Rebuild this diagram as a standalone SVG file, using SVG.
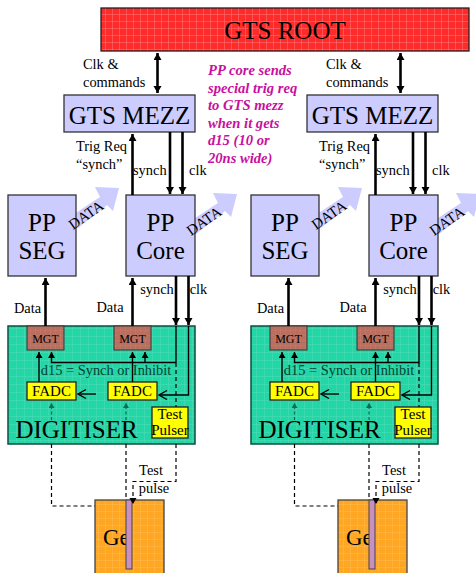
<svg xmlns="http://www.w3.org/2000/svg" width="476" height="573" viewBox="0 0 476 573">
<style>
text{font-family:"Liberation Serif","Times New Roman",serif;fill:#000;text-anchor:middle}
.lbl{font-size:14.4px}
.st{text-anchor:start}
.big{font-size:25px}
.mgt{font-size:12px}
.dig{font-size:25px}
.fa{font-size:15px}
.da{font-size:15px}
.ge{font-size:23px;text-anchor:start}
.node{fill:#ccccff;stroke:#333;stroke-width:1.3}
.note{font-size:14.600px;font-style:italic;font-weight:bold;fill:#c80fa0;text-anchor:start}
.th{fill:none;stroke:#000;stroke-width:2.6}
.tn{fill:none;stroke:#000;stroke-width:1.4}
.ds{fill:none;stroke:#000;stroke-width:1.2;stroke-dasharray:4 3}
.dg{fill:none;stroke:#0a6a58;stroke-width:1.2;stroke-dasharray:3 2.5}
.yel{fill:#ffff00;stroke:#222;stroke-width:1.3}
.blk{fill:#ccccff;stroke:none}
.mg{fill:url(#pm);stroke:#333;stroke-width:1}
.dgr{fill:url(#pg);stroke:#0b4f40;stroke-width:1.5}
.gb{fill:url(#po);stroke:#444;stroke-width:1.3}
.gc{fill:#c890c0;stroke:#444;stroke-width:1}
</style>
<defs>
<pattern id="pr" width="7" height="7" patternUnits="userSpaceOnUse"><rect width="7" height="7" fill="#ff2a2a"/><path d="M0 0H7M0 0V7" stroke="#ff7a7a" stroke-width="1"/></pattern>
<pattern id="pg" width="8" height="8" patternUnits="userSpaceOnUse"><rect width="8" height="8" fill="#22d6a6"/><path d="M0 0H8M0 0V8" stroke="#52dcb9" stroke-width="1"/></pattern>
<pattern id="pm" width="5" height="5" patternUnits="userSpaceOnUse"><rect width="5" height="5" fill="#b5705f"/><path d="M0 0H5M0 0V5" stroke="#d0766a" stroke-width="1"/></pattern>
<pattern id="po" width="7" height="7" patternUnits="userSpaceOnUse"><rect width="7" height="7" fill="#ffa722"/><path d="M0 0H7M0 0V7" stroke="#ffbb55" stroke-width="1"/></pattern>
<marker id="a" markerUnits="userSpaceOnUse" markerWidth="9" markerHeight="9" refX="7" refY="4" orient="auto-start-reverse"><path d="M0 0L7 4L0 8Z" fill="#000"/></marker>
<marker id="b" markerUnits="userSpaceOnUse" markerWidth="8" markerHeight="8" refX="6" refY="3.5" orient="auto"><path d="M0 0L6 3.5L0 7Z" fill="#000"/></marker>
<marker id="o" markerUnits="userSpaceOnUse" markerWidth="11" markerHeight="11" refX="10" refY="5" orient="auto"><path d="M2 0.500L10 5L2 9.500" fill="none" stroke="#000" stroke-width="1.300"/></marker>
<marker id="g" markerUnits="userSpaceOnUse" markerWidth="7" markerHeight="7" refX="5" refY="3" orient="auto"><path d="M0 0L5 3L0 6Z" fill="#0a6a58"/></marker>
</defs>

<g id="gts-root"><rect x="101" y="8" width="368" height="43" fill="url(#pr)" stroke="#222" stroke-width="1.3"/><text x="285" y="39" class="big">GTS ROOT</text></g>

<g id="note"><text class="note"><tspan x="208" y="75">PP core sends</tspan><tspan x="208" y="93">special trig req</tspan><tspan x="208" y="110">to GTS mezz</tspan><tspan x="208" y="128">when it gets</tspan><tspan x="208" y="145">d15 (10 or</tspan><tspan x="208" y="163">20ns wide)</tspan></text></g>

<g id="data-arrows">
<polygon class="blk" points="68,218 100,197 95,187 119,188 113,211 107,205 78,228"/>
<polygon class="blk" points="186,224 218,203 213,193 237,194 231,217 225,211 196,234"/>
<polygon class="blk" points="311,218 343,197 338,187 362,188 356,211 350,205 321,228"/>
<polygon class="blk" points="429,224 461,203 456,193 480,194 474,217 468,211 439,234"/>
</g>

<g id="left-gts-mezz"><rect class="node" x="64" y="95" width="131" height="37"/><text x="129.500" y="124" class="big">GTS MEZZ</text></g>
<g id="left-pp-seg"><rect class="node" x="8" y="195" width="68" height="81"/><text x="42" y="231" class="big">PP</text><text x="42" y="259" class="big">SEG</text></g>
<g id="left-pp-core"><rect class="node" x="126" y="195" width="69" height="81"/><text x="160.500" y="231" class="big">PP</text><text x="160.500" y="259" class="big">Core</text></g>
<g id="left-digitiser"><rect class="dgr" x="8" y="326" width="187" height="118"/><text x="76.500" y="438" class="dig">DIGITISER</text></g>
<g id="left-mgt-1"><rect class="mg" x="27" y="326" width="37" height="24"/><text x="45.500" y="343" class="mgt">MGT</text></g>
<g id="left-mgt-2"><rect class="mg" x="114" y="326" width="37" height="24"/><text x="132.500" y="343" class="mgt">MGT</text></g>
<g id="left-fadc-1"><rect class="yel" x="27" y="382" width="49" height="18"/><text x="51.500" y="396" class="fa">FADC</text></g>
<g id="left-fadc-2"><rect class="yel" x="108" y="382" width="49" height="18"/><text x="132.500" y="396" class="fa">FADC</text></g>
<g id="left-test-pulser"><rect class="yel" x="152" y="407" width="36" height="31"/><text x="170" y="419" class="fa">Test</text><text x="170" y="435" class="fa">Pulser</text></g>
<g id="left-ge"><rect class="gb" x="95" y="500" width="69" height="76"/><text x="103" y="545" class="ge">Ge</text></g>
<g id="left-ge-core"><rect class="gc" x="126" y="500" width="6" height="69"/></g>

<g id="right-gts-mezz"><rect class="node" x="307" y="95" width="131" height="37"/><text x="372.500" y="124" class="big">GTS MEZZ</text></g>
<g id="right-pp-seg"><rect class="node" x="251" y="195" width="68" height="81"/><text x="285" y="231" class="big">PP</text><text x="285" y="259" class="big">SEG</text></g>
<g id="right-pp-core"><rect class="node" x="369" y="195" width="69" height="81"/><text x="403.500" y="231" class="big">PP</text><text x="403.500" y="259" class="big">Core</text></g>
<g id="right-digitiser"><rect class="dgr" x="251" y="326" width="187" height="118"/><text x="319.500" y="438" class="dig">DIGITISER</text></g>
<g id="right-mgt-1"><rect class="mg" x="270" y="326" width="37" height="24"/><text x="288.500" y="343" class="mgt">MGT</text></g>
<g id="right-mgt-2"><rect class="mg" x="357" y="326" width="37" height="24"/><text x="375.500" y="343" class="mgt">MGT</text></g>
<g id="right-fadc-1"><rect class="yel" x="270" y="382" width="49" height="18"/><text x="294.500" y="396" class="fa">FADC</text></g>
<g id="right-fadc-2"><rect class="yel" x="351" y="382" width="49" height="18"/><text x="375.500" y="396" class="fa">FADC</text></g>
<g id="right-test-pulser"><rect class="yel" x="395" y="407" width="36" height="31"/><text x="413" y="419" class="fa">Test</text><text x="413" y="435" class="fa">Pulser</text></g>
<g id="right-ge"><rect class="gb" x="338" y="500" width="69" height="76"/><text x="346" y="545" class="ge">Ge</text></g>
<g id="right-ge-core"><rect class="gc" x="369" y="500" width="6" height="69"/></g>

<g id="connectors">
<g id="conn-left">
<path class="th" d="M157.500 53V93" marker-start="url(#a)" marker-end="url(#a)"/>
<path class="th" d="M132.500 195V134" marker-end="url(#a)"/>
<path class="th" d="M170 132V194" marker-end="url(#a)"/>
<path class="th" d="M182.500 132V194" marker-end="url(#a)"/>
<path class="th" d="M45.500 326V278" marker-end="url(#a)"/>
<path class="th" d="M132.500 326V278" marker-end="url(#a)"/>
<path class="th" d="M176 276V325" marker-end="url(#a)"/>
<path class="th" d="M188.500 276V325" marker-end="url(#a)"/>
<path class="tn" d="M39 382V352" marker-end="url(#b)"/>
<path class="tn" d="M132.500 382V352" marker-end="url(#b)"/>
<path class="tn" d="M176 326V362.500H51.500V352" marker-end="url(#b)"/>
<path class="tn" d="M145 362.500V352" marker-end="url(#b)"/>
<path class="tn" d="M188.500 326V395H159" marker-end="url(#o)"/>
<path class="tn" d="M96 394H78" marker-end="url(#o)"/>
<path class="dg" d="M51.500 420V403" marker-end="url(#g)"/>
<path class="dg" d="M126 420V403" marker-end="url(#g)"/>
<path class="ds" d="M176 363V407"/>
<path class="ds" d="M176 444V481.500H133V504" marker-end="url(#b)"/>
<path class="ds" d="M51.500 444V506H95"/>
<path class="ds" d="M126 444V500"/>
</g>
<g id="conn-right">
<path class="th" d="M400.500 53V93" marker-start="url(#a)" marker-end="url(#a)"/>
<path class="th" d="M375.500 195V134" marker-end="url(#a)"/>
<path class="th" d="M413 132V194" marker-end="url(#a)"/>
<path class="th" d="M425.500 132V194" marker-end="url(#a)"/>
<path class="th" d="M288.500 326V278" marker-end="url(#a)"/>
<path class="th" d="M375.500 326V278" marker-end="url(#a)"/>
<path class="th" d="M419 276V325" marker-end="url(#a)"/>
<path class="th" d="M431.500 276V325" marker-end="url(#a)"/>
<path class="tn" d="M282 382V352" marker-end="url(#b)"/>
<path class="tn" d="M375.500 382V352" marker-end="url(#b)"/>
<path class="tn" d="M419 326V362.500H294.500V352" marker-end="url(#b)"/>
<path class="tn" d="M388 362.500V352" marker-end="url(#b)"/>
<path class="tn" d="M431.500 326V395H402" marker-end="url(#o)"/>
<path class="tn" d="M339 394H321" marker-end="url(#o)"/>
<path class="dg" d="M294.500 420V403" marker-end="url(#g)"/>
<path class="dg" d="M369 420V403" marker-end="url(#g)"/>
<path class="ds" d="M419 363V407"/>
<path class="ds" d="M419 444V481.500H376V504" marker-end="url(#b)"/>
<path class="ds" d="M294.500 444V506H338"/>
<path class="ds" d="M369 444V500"/>
</g>
</g>

<g id="labels">
<text class="lbl st" x="83" y="69">Clk &amp;</text>
<text class="lbl st" x="83" y="87">commands</text>
<text class="lbl st" x="76" y="151">Trig Req</text>
<text class="lbl st" x="76" y="169">“synch”</text>
<text class="lbl st" x="133" y="175">synch</text>
<text class="lbl st" x="189" y="175">clk</text>
<text class="lbl" x="27.500" y="313">Data</text>
<text class="lbl" x="110" y="312">Data</text>
<text class="lbl" x="157" y="294">synch</text>
<text class="lbl" x="198.500" y="294">clk</text>
<text class="lbl" x="106" y="375" style="fill:#043">d15 = Synch or Inhibit</text>
<text class="lbl" x="151" y="475">Test</text>
<text class="lbl" x="154" y="493">pulse</text>
<text class="da" x="86" y="220" transform="rotate(-35 86 215)">DATA</text>
<text class="da" x="204" y="226" transform="rotate(-35 204 221)">DATA</text>

<text class="lbl st" x="326" y="69">Clk &amp;</text>
<text class="lbl st" x="326" y="87">commands</text>
<text class="lbl st" x="319" y="151">Trig Req</text>
<text class="lbl st" x="319" y="169">“synch”</text>
<text class="lbl st" x="376" y="175">synch</text>
<text class="lbl st" x="432" y="175">clk</text>
<text class="lbl" x="270.500" y="313">Data</text>
<text class="lbl" x="353" y="312">Data</text>
<text class="lbl" x="400" y="294">synch</text>
<text class="lbl" x="441.500" y="294">clk</text>
<text class="lbl" x="349" y="375" style="fill:#043">d15 = Synch or Inhibit</text>
<text class="lbl" x="394" y="475">Test</text>
<text class="lbl" x="397" y="493">pulse</text>
<text class="da" x="329" y="220" transform="rotate(-35 329 215)">DATA</text>
<text class="da" x="447" y="226" transform="rotate(-35 447 221)">DATA</text>
</g>
</svg>
